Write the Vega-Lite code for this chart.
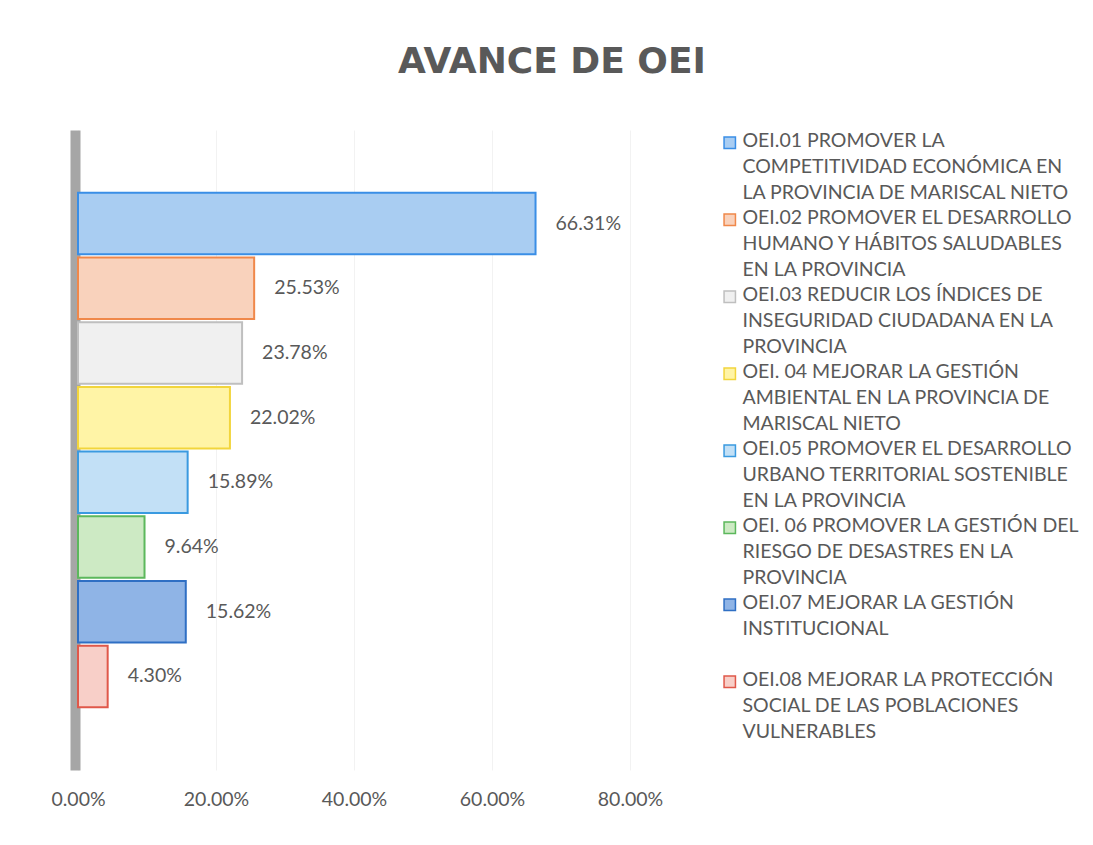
{
  "$schema": "https://vega.github.io/schema/vega-lite/v6.json",
  "width": 552,
  "height": 640,
  "autosize": {"type": "none"},
  "padding": {"left": 78, "top": 130, "right": 463, "bottom": 75},
  "background": "white",
  "config": {"view": {"stroke": null}},
  "title": {
    "text": "AVANCE DE OEI",
    "anchor": "middle",
    "frame": "bounds",
    "fontSize": 36,
    "fontWeight": "bold",
    "font": "DejaVu Sans",
    "color": "#595959",
    "offset": 49,
    "dx": -15
  },
  "data": {
    "values": [
      {"oei": "OEI.01 PROMOVER LA|COMPETITIVIDAD ECONÓMICA EN|LA PROVINCIA DE MARISCAL NIETO", "avance": 0.6631},
      {"oei": "OEI.02 PROMOVER EL DESARROLLO|HUMANO Y HÁBITOS SALUDABLES|EN LA PROVINCIA", "avance": 0.2553},
      {"oei": "OEI.03 REDUCIR LOS ÍNDICES DE|INSEGURIDAD CIUDADANA EN LA|PROVINCIA", "avance": 0.2378},
      {"oei": "OEI. 04 MEJORAR LA GESTIÓN|AMBIENTAL EN LA PROVINCIA DE|MARISCAL NIETO", "avance": 0.2202},
      {"oei": "OEI.05 PROMOVER EL DESARROLLO|URBANO TERRITORIAL SOSTENIBLE|EN LA PROVINCIA", "avance": 0.1589},
      {"oei": "OEI. 06 PROMOVER LA GESTIÓN DEL|RIESGO DE DESASTRES EN LA|PROVINCIA", "avance": 0.0964},
      {"oei": "OEI.07 MEJORAR LA GESTIÓN|INSTITUCIONAL| ", "avance": 0.1562},
      {"oei": "OEI.08 MEJORAR LA PROTECCIÓN|SOCIAL DE LAS POBLACIONES|VULNERABLES", "avance": 0.043}
    ]
  },
  "encoding": {
    "y": {
      "field": "oei",
      "type": "nominal",
      "sort": null,
      "scale": {"paddingInner": 0.05, "paddingOuter": 0.97},
      "axis": {
        "labels": false,
        "ticks": false,
        "title": null,
        "domain": true,
        "domainColor": "#a6a6a6",
        "domainWidth": 10,
        "offset": 3,
        "grid": false
      }
    },
    "x": {
      "field": "avance",
      "type": "quantitative",
      "scale": {"domain": [0, 0.8]},
      "axis": {
        "values": [0, 0.2, 0.4, 0.6, 0.8],
        "format": ".2%",
        "title": null,
        "domain": false,
        "ticks": false,
        "grid": true,
        "gridColor": "#f2f2f2",
        "labelFlush": false,
        "labelFontSize": 19.5,
        "labelFont": "Lato",
        "labelColor": "#595959",
        "labelPadding": 20
      }
    }
  },
  "layer": [
    {
      "mark": {"type": "bar", "strokeWidth": 2},
      "encoding": {
        "fill": {
          "field": "oei",
          "type": "nominal",
          "sort": null,
          "scale": {"range": ["#a9cdf2", "#f9d2bc", "#f0f0f0", "#fff4a6", "#c2e0f6", "#cdeac4", "#8fb4e6", "#f8cfc8"]},
          "legend": {
            "orient": "right",
            "offset": 87,
            "padding": 3,
            "title": null,
            "symbolType": "square",
            "symbolSize": 130,
            "symbolStrokeWidth": 1.5,
            "labelFontSize": 19.5,
            "labelFont": "Lato",
            "labelColor": "#595959",
            "labelLimit": 400,
            "labelOffset": 3,
            "labelBaseline": "top",
            "labelExpr": "split(datum.label, '|')",
            "rowPadding": 4,
            "encode": {"labels": {"update": {"lineHeight": {"value": 26}, "dy": {"value": -11}}}}
          }
        },
        "stroke": {
          "field": "oei",
          "type": "nominal",
          "sort": null,
          "scale": {"range": ["#3a8ee6", "#f0884a", "#bfbfbf", "#f2d53c", "#3a9ae0", "#5cb85c", "#2f6fc4", "#e0584a"]}
        }
      }
    },
    {
      "mark": {"type": "text", "align": "left", "baseline": "middle", "dx": 20, "fontSize": 19.5, "font": "Lato", "color": "#595959"},
      "encoding": {
        "text": {"field": "avance", "type": "quantitative", "format": ".2%"}
      }
    }
  ]
}
